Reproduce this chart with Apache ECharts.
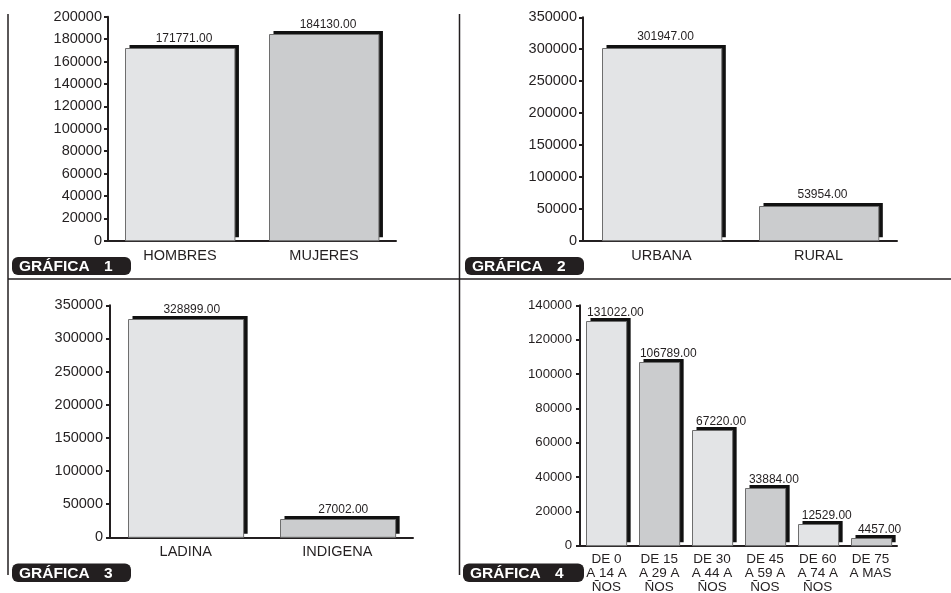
<!DOCTYPE html>
<html>
<head>
<meta charset="utf-8">
<script src="https://cdn.jsdelivr.net/npm/echarts@6/dist/echarts.min.js"></script>
<style>
  html, body { margin: 0; padding: 0; background: #ffffff; }
  #chart { width: 951px; height: 593px; }
</style>
</head>
<body>
<div id="chart"></div>
<script>
// Población por sexo, área, grupo étnico y grupo de edad
const sexoCategorias = ['HOMBRES', 'MUJERES'];
const sexoValores = [171771, 184130];

const areaCategorias = ['URBANA', 'RURAL'];
const areaValores = [301947, 53954];

const etniaCategorias = ['LADINA', 'INDIGENA'];
const etniaValores = [328899, 27002];

const edadCategorias = ['DE 0\nA 14 A\nÑOS', 'DE 15\nA 29 A\nÑOS', 'DE 30\nA 44 A\nÑOS',
                        'DE 45\nA 59 A\nÑOS', 'DE 60\nA 74 A\nÑOS', 'DE 75\nA MAS'];
const edadValores = [131022, 106789, 67220, 33884, 12529, 4457];

const tituloGraficas = ['GRÁFICA', 'GRÁFICA', 'GRÁFICA', 'GRÁFICA'];
const numeroGraficas = ['1', '2', '3', '4'];

const FONT = '"Liberation Sans", Arial, sans-serif';
const INK = '#231f20';
const barColors = ['#e3e4e6', '#cbccce'];

const chart = echarts.init(document.getElementById('chart'), null, { renderer: 'canvas' });

const grids = [
  { left: 108, top: 16.7, width: 288, height: 224 },
  { left: 583, top: 17.3, width: 314, height: 223.4 },
  { left: 110, top: 305.3, width: 303, height: 232 },
  { left: 580, top: 305.3, width: 317, height: 240.4 }
].map(g => Object.assign({ containLabel: false, outerBoundsMode: 'none' }, g));

function xAxis(idx, cats, fontSize, lineHeight, margin) {
  return {
    type: 'category', gridIndex: idx, data: cats,
    axisLine: { lineStyle: { color: INK, width: 2 } },
    axisTick: { inside: true, length: 4, lineStyle: { color: INK, width: 2 } },
    axisLabel: { color: INK, fontFamily: FONT, fontSize: fontSize, lineHeight: lineHeight,
                 margin: margin, interval: 0 },
    splitLine: { show: false }
  };
}

function yAxis(idx, max, interval, fontSize, margin) {
  return {
    type: 'value', gridIndex: idx, min: 0, max: max, interval: interval,
    axisLine: { show: true, lineStyle: { color: INK, width: 2 } },
    axisTick: { show: true, length: 4, lineStyle: { color: INK, width: 2 } },
    axisLabel: { color: INK, fontFamily: FONT, fontSize: fontSize, margin: margin,
                 formatter: v => String(v) },
    splitLine: { show: false }
  };
}

// Bar with a solid black drop shadow up and to the right, plus its value label
function barSeries(idx, values, labelDx, labelGap) {
  return {
    type: 'custom', xAxisIndex: idx, yAxisIndex: idx,
    data: values.map((v, i) => [i, v]),
    encode: { x: 0, y: 1 },
    renderItem: function (params, api) {
      const i = api.value(0);
      const v = api.value(1);
      const top = api.coord([i, v]);
      const base = api.coord([i, 0]);
      const w = api.size([1, 0])[0] * 0.76;
      const x0 = Math.round(top[0] - w / 2) + 0.5;
      const y0 = Math.round(top[1]) + 0.5;
      const h = base[1] - y0;
      return {
        type: 'group',
        children: [
          { type: 'rect', shape: { x: x0 + 4, y: y0 - 3.5, width: w, height: h },
            style: { fill: '#111111' } },
          { type: 'rect', shape: { x: x0, y: y0, width: w, height: h },
            style: { fill: barColors[i % 2], stroke: '#6e6e6e', lineWidth: 1 } },
          { type: 'text', x: top[0] + labelDx, y: y0 - 3.5 - labelGap,
            style: { text: v.toFixed(2), fill: INK, font: '12px ' + FONT,
                     align: 'center', verticalAlign: 'middle' } }
        ]
      };
    },
    animation: false
  };
}

// Frame lines separating the four panels
const frame = [
  { type: 'line', shape: { x1: 8, y1: 14, x2: 8, y2: 575 }, style: { stroke: INK, lineWidth: 1.5 } },
  { type: 'line', shape: { x1: 459.5, y1: 14, x2: 459.5, y2: 575 }, style: { stroke: INK, lineWidth: 1.5 } },
  { type: 'line', shape: { x1: 8, y1: 279, x2: 951, y2: 279 }, style: { stroke: INK, lineWidth: 1.5 } }
];

// Rounded title badges
const badgePos = [
  { x: 12, y: 257, w: 119, h: 18 },
  { x: 465, y: 257, w: 119, h: 18 },
  { x: 12, y: 563.5, w: 119, h: 18.5 },
  { x: 463, y: 563.5, w: 121, h: 18.5 }
];
const badges = [];
badgePos.forEach((b, i) => {
  badges.push({ type: 'rect', shape: { x: b.x, y: b.y, width: b.w, height: b.h, r: 6 },
                style: { fill: INK }, z: 10 });
  badges.push({ type: 'text', x: b.x + 7, y: b.y + b.h / 2 + 0.5,
                style: { text: tituloGraficas[i], fill: '#ffffff', font: 'bold 15.5px ' + FONT,
                         verticalAlign: 'middle' }, z: 11 });
  badges.push({ type: 'text', x: b.x + 92, y: b.y + b.h / 2 + 0.5,
                style: { text: numeroGraficas[i], fill: '#ffffff', font: 'bold 15.5px ' + FONT,
                         verticalAlign: 'middle' }, z: 11 });
});

chart.setOption({
  backgroundColor: '#ffffff',
  animation: false,
  grid: grids,
  xAxis: [
    xAxis(0, sexoCategorias, 14.5, 16, 7),
    xAxis(1, areaCategorias, 14.5, 16, 7),
    xAxis(2, etniaCategorias, 14.5, 16, 7),
    xAxis(3, edadCategorias, 13.5, 14, 7)
  ],
  yAxis: [
    yAxis(0, 200000, 20000, 14.5, 6),
    yAxis(1, 350000, 50000, 14.5, 6),
    yAxis(2, 350000, 50000, 14.5, 7),
    yAxis(3, 140000, 20000, 13.2, 8)
  ],
  series: [
    barSeries(0, sexoValores, 4, 6),
    barSeries(1, areaValores, 4, 8),
    barSeries(2, etniaValores, 6, 6),
    barSeries(3, edadValores, 9, 5.5)
  ],
  graphic: frame.concat(badges)
});
</script>
</body>
</html>
